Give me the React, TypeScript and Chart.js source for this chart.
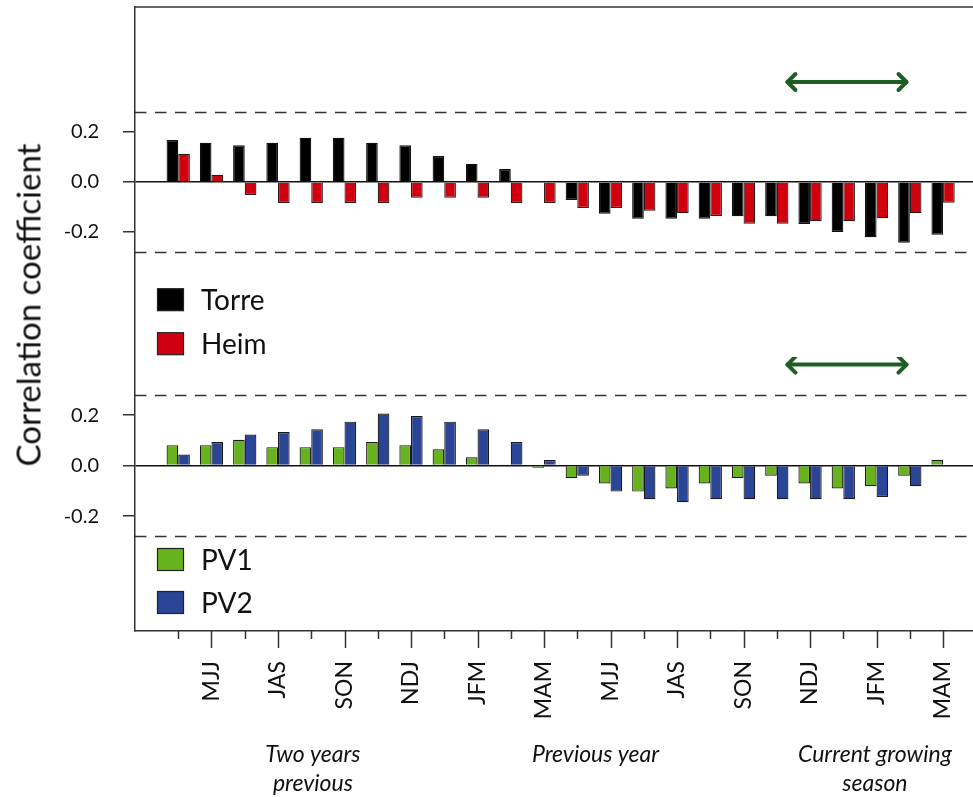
import React, { useEffect, useRef } from 'react';
import { Chart, registerables } from 'chart.js';

Chart.register(...registerables);

// ---------- data ----------
const seasons = [
  'AMJ', 'MJJ', 'JJA', 'JAS', 'ASO', 'SON', 'OND', 'NDJ', 'DJF', 'JFM', 'FMA', 'MAM',
  'AMJ', 'MJJ', 'JJA', 'JAS', 'ASO', 'SON', 'OND', 'NDJ', 'DJF', 'JFM', 'FMA', 'MAM',
];
const torre = [0.168, 0.157, 0.147, 0.157, 0.177, 0.177, 0.157, 0.147, 0.104, 0.073, 0.052, 0.0,
  -0.072, -0.127, -0.147, -0.147, -0.147, -0.137, -0.137, -0.168, -0.2, -0.221, -0.243, -0.211];
const heim = [0.113, 0.029, -0.052, -0.084, -0.084, -0.084, -0.084, -0.063, -0.063, -0.063, -0.084, -0.084,
  -0.104, -0.104, -0.115, -0.125, -0.136, -0.167, -0.167, -0.157, -0.157, -0.145, -0.125, -0.083];
const pv1 = [0.081, 0.081, 0.102, 0.073, 0.073, 0.073, 0.093, 0.081, 0.065, 0.033, 0.002, -0.009,
  -0.05, -0.071, -0.103, -0.091, -0.071, -0.05, -0.04, -0.071, -0.091, -0.082, -0.04, 0.023];
const pv2 = [0.044, 0.093, 0.123, 0.133, 0.144, 0.174, 0.206, 0.196, 0.174, 0.144, 0.093, 0.022,
  -0.04, -0.103, -0.133, -0.145, -0.133, -0.133, -0.133, -0.133, -0.133, -0.124, -0.082, 0.0];
const yTickValues = [-0.2, 0, 0.2];
const sigLevel = 0.28;
const arrowFrom = 18.29;
const arrowTo = 21.93;
const arrowLevel = 0.4;
const periods = [
  { lines: ['Two years', 'previous'], at: 4.05 },
  { lines: ['Previous year'], at: 12.55 },
  { lines: ['Current growing', 'season'], at: 20.95 },
];

const FONT = 'Lato, "Open Sans", sans-serif';
const X_MIN = -1.3;
const X_MAX = 23.9;

function drawArrow(ctx: CanvasRenderingContext2D, x1: number, x2: number, y: number) {
  ctx.save();
  ctx.strokeStyle = '#1f5e22';
  ctx.lineWidth = 4;
  ctx.lineCap = 'round';
  ctx.lineJoin = 'round';
  ctx.beginPath();
  ctx.moveTo(x1 + 1, y);
  ctx.lineTo(x2 - 1, y);
  ctx.stroke();
  ctx.beginPath();
  ctx.moveTo(x1 + 9, y - 8);
  ctx.lineTo(x1 + 1, y);
  ctx.lineTo(x1 + 9, y + 8);
  ctx.stroke();
  ctx.beginPath();
  ctx.moveTo(x2 - 9, y - 8);
  ctx.lineTo(x2 - 1, y);
  ctx.lineTo(x2 - 9, y + 8);
  ctx.stroke();
  ctx.restore();
}

function makePlugin(opts: { top: boolean; legendY: number[] }) {
  return {
    id: 'panelDecor',
    afterDraw(chart: any) {
      const { ctx, chartArea, scales } = chart;
      const x = scales.x;
      const y = scales.y;
      ctx.save();
      // significance dashed lines
      ctx.strokeStyle = '#333';
      ctx.lineWidth = 1.5;
      ctx.setLineDash([11.5, 8.5]);
      for (const v of [sigLevel, -sigLevel]) {
        const py = Math.round(y.getPixelForValue(v)) + 0.5;
        ctx.beginPath();
        ctx.moveTo(chartArea.left, py);
        ctx.lineTo(chartArea.right, py);
        ctx.stroke();
      }
      ctx.setLineDash([]);
      // top border
      if (opts.top) {
        ctx.strokeStyle = '#333';
        ctx.lineWidth = 1.5;
        ctx.beginPath();
        ctx.moveTo(chartArea.left, chartArea.top);
        ctx.lineTo(chartArea.right, chartArea.top);
        ctx.stroke();
      }
      // arrow
      drawArrow(ctx, x.getPixelForValue(arrowFrom), x.getPixelForValue(arrowTo), y.getPixelForValue(arrowLevel));
      // legend
      const ds = chart.data.datasets;
      ctx.font = `28px ${FONT}`;
      ctx.textBaseline = 'middle';
      ctx.textAlign = 'left';
      ds.forEach((d: any, i: number) => {
        const cy = opts.legendY[i];
        ctx.fillStyle = d.backgroundColor;
        ctx.fillRect(157.5, cy - 11, 26, 22);
        ctx.strokeStyle = '#222';
        ctx.lineWidth = 1.2;
        ctx.strokeRect(157.5, cy - 11, 26, 22);
        ctx.fillStyle = '#111';
        ctx.fillText(d.label, 201, cy + 1);
      });
      // x ticks + period annotations (bottom panel)
      if (!opts.top) {
        ctx.strokeStyle = '#333';
        ctx.lineWidth = 1.5;
        for (let i = 0; i < seasons.length; i++) {
          const px = Math.round(x.getPixelForValue(i)) + 0.5;
          const len = i % 2 === 1 ? 17 : 8;
          ctx.beginPath();
          ctx.moveTo(px, chartArea.bottom);
          ctx.lineTo(px, chartArea.bottom + len);
          ctx.stroke();
        }
        ctx.font = `italic 23px ${FONT}`;
        ctx.fillStyle = '#111';
        ctx.textAlign = 'center';
        ctx.textBaseline = 'middle';
        periods.forEach((p) => {
          const px = x.getPixelForValue(p.at);
          p.lines.forEach((ln, k) => {
            ctx.fillText(ln, px, chartArea.bottom + 124 + k * 29);
          });
        });
      }
      ctx.restore();
    },
  };
}

function makeConfig(
  series: { label: string; data: number[]; color: string; border: string }[],
  yMin: number,
  yMax: number,
  top: boolean,
  legendY: number[],
): any {
  return {
    type: 'bar',
    data: {
      datasets: series.map((s) => ({
        label: s.label,
        data: s.data.map((v, i) => ({ x: i, y: v })),
        backgroundColor: s.color,
        borderColor: s.border,
        borderWidth: 1.2,
        categoryPercentage: 0.7,
        barPercentage: 1,
      })),
    },
    options: {
      responsive: false,
      animation: false,
      layout: { padding: { top: top ? 7 : 0, left: 0, right: 0, bottom: 0 } },
      plugins: { legend: { display: false }, tooltip: { enabled: false } },
      scales: {
        x: {
          type: 'linear',
          min: X_MIN,
          max: X_MAX,
          offset: false,
          display: !top,
          grid: { display: false, drawTicks: false, offset: false },
          border: { display: true, color: '#333', width: 1.5 },
          ticks: {
            stepSize: 1,
            includeBounds: false,
            autoSkip: false,
            minRotation: 90,
            maxRotation: 90,
            padding: 30,
            color: '#111',
            font: { family: FONT, size: 23 },
            callback: (v: any) => {
              const i = Math.round(Number(v));
              return Math.abs(Number(v) - i) < 1e-6 && i >= 0 && i < seasons.length && i % 2 === 1 ? seasons[i] : '';
            },
          },
          afterFit: (s: any) => {
            s.height = top ? 0 : 166;
            s.paddingLeft = 0;
            s.paddingRight = 0;
          },
        },
        y: {
          type: 'linear',
          min: yMin,
          max: yMax,
          grid: {
            display: true,
            drawTicks: true,
            tickLength: 12,
            tickColor: '#333',
            tickWidth: 1.5,
            color: (c: any) => (c.tick && Math.abs(c.tick.value) < 1e-9 ? '#111' : 'rgba(0,0,0,0)'),
            lineWidth: 1.5,
          },
          border: { display: true, color: '#333', width: 1.5 },
          afterBuildTicks: (s: any) => {
            s.ticks = yTickValues.map((v) => ({ value: v }));
          },
          ticks: {
            padding: 24,
            color: '#111',
            font: { family: FONT, size: 20 },
            callback: (v: any) => Number(v).toFixed(1),
          },
          afterFit: (s: any) => {
            s.width = 135;
            s.paddingTop = 0;
            s.paddingBottom = 0;
          },
        },
      },
    },
    plugins: [makePlugin({ top, legendY })],
  };
}

export default function App() {
  const topRef = useRef<HTMLCanvasElement | null>(null);
  const botRef = useRef<HTMLCanvasElement | null>(null);

  useEffect(() => {
    const c1 = new Chart(
      topRef.current as HTMLCanvasElement,
      makeConfig(
        [
          { label: 'Torre', data: torre, color: '#000000', border: '#111111' },
          { label: 'Heim', data: heim, color: '#d0000f', border: '#2a1a1a' },
        ],
        -0.7,
        0.7,
        true,
        [299.7, 343.7],
      ),
    );
    const c2 = new Chart(
      botRef.current as HTMLCanvasElement,
      makeConfig(
        [
          { label: 'PV1', data: pv1, color: '#67b21d', border: '#1a1a1a' },
          { label: 'PV2', data: pv2, color: '#2a4595', border: '#1a1a1a' },
        ],
        -0.655,
        0.43,
        false,
        [202.5, 245.5],
      ),
    );
    return () => {
      c1.destroy();
      c2.destroy();
    };
  }, []);

  return (
    <div style={{ position: 'fixed', left: 0, top: 0, width: 973, height: 797, background: '#fff', overflow: 'hidden' }}>
      <canvas ref={topRef} width={973} height={357} style={{ position: 'absolute', left: 0, top: 0, width: 973, height: 357 }} />
      <canvas ref={botRef} width={973} height={440} style={{ position: 'absolute', left: 0, top: 357, width: 973, height: 440 }} />
      <div
        style={{
          position: 'absolute',
          left: 28,
          top: 305,
          transform: 'translate(-50%, -50%) rotate(-90deg)',
          fontFamily: FONT,
          fontSize: 33,
          color: '#111',
          whiteSpace: 'nowrap',
          lineHeight: 1,
        }}
      >
        Correlation coefficient
      </div>
    </div>
  );
}
